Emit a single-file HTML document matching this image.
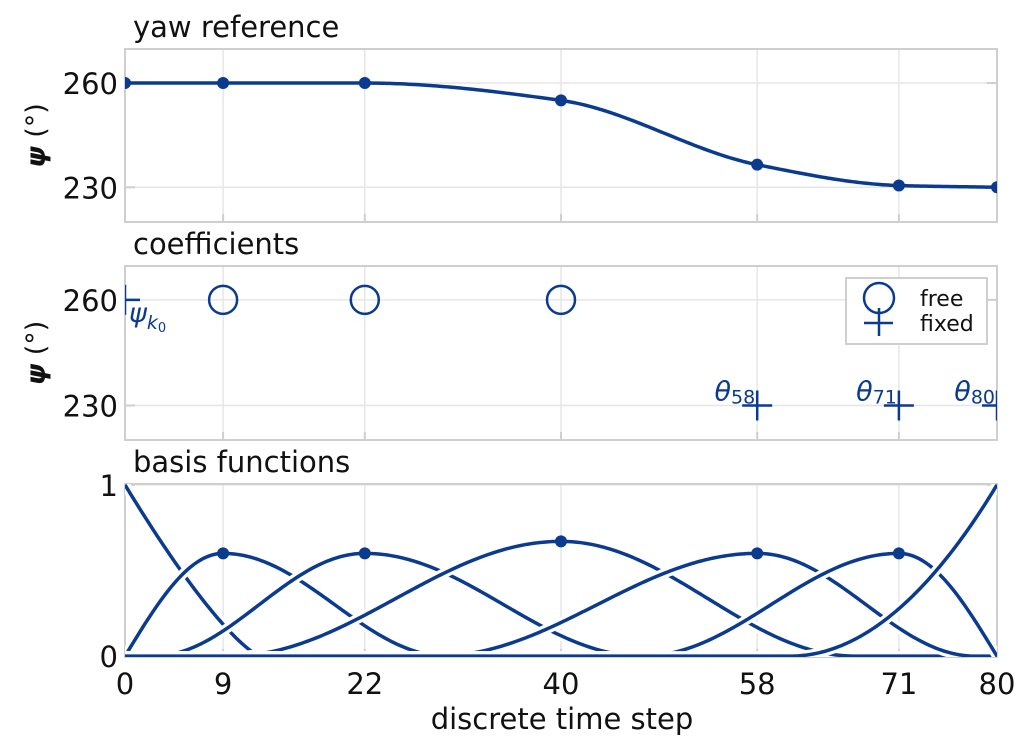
<!DOCTYPE html>
<html><head><meta charset="utf-8"><style>
html,body{margin:0;padding:0;background:#fff;}
svg{display:block;font-family:"DejaVu Sans","Liberation Sans",sans-serif;}
</style></head><body>
<svg id="chart" width="1033" height="755" viewBox="0 0 1033 755"></svg>
<script>
// ---- data ----
const knotTicks = [0, 9, 22, 40, 58, 71, 80];
const coefficients = [260, 260, 260, 260, 230, 230, 230];
const yawPointValues = [260, 260, 260, 255, 236.5, 230.5, 230];
const coefFixed = [true, false, false, false, true, true, true];
const coefLabels = ["k0", "", "", "", "58", "71", "80"];
const yawTicks = [230, 260];
const basisTicks = [0, 1];
// basis functions: support start, peak location, support end, peak value
const basisStart = [0, 0, 2.6, 9.6, 28.6, 47.5, 61];
const basisPeakAt = [0, 9, 22, 40, 58, 71, 80];
const basisEnd = [12.4, 29.5, 47.5, 67, 78, 80, 80];
const basisPeak = [1, 0.6, 0.6, 0.67, 0.6, 0.6, 1];

const C = '#0b3b8f', GRID = '#e6e6e6', BORDER = '#cfcfcf';
const FS = 29;
const svg = document.getElementById('chart');
const NS = 'http://www.w3.org/2000/svg';
function mk(tag, attrs, parent) {
  const e = document.createElementNS(NS, tag);
  for (const k in attrs) e.setAttribute(k, attrs[k]);
  (parent || svg).appendChild(e);
  return e;
}
const X0 = 125, X1 = 997;
const xs = v => X0 + v / 80 * (X1 - X0);
const nB = coefficients.length;

// monotone cubic (Fritsch-Carlson) through the yaw points
const nP = knotTicks.length;
const hs = [], ds = [];
for (let i = 0; i < nP - 1; i++) { hs.push(knotTicks[i + 1] - knotTicks[i]); ds.push((yawPointValues[i + 1] - yawPointValues[i]) / hs[i]); }
const ms = [ds[0]];
for (let i = 1; i < nP - 1; i++) {
  if (ds[i - 1] * ds[i] <= 0) ms.push(0);
  else { const w1 = 2 * hs[i] + hs[i - 1], w2 = hs[i] + 2 * hs[i - 1]; ms.push((w1 + w2) / (w1 / ds[i - 1] + w2 / ds[i])); }
}
ms.push(ds[nP - 2]);
function yaw(t) {
  let i = 0; while (i < nP - 2 && t > knotTicks[i + 1]) i++;
  const h = hs[i], u = (t - knotTicks[i]) / h;
  const h00 = 2*u*u*u - 3*u*u + 1, h10 = u*u*u - 2*u*u + u, h01 = -2*u*u*u + 3*u*u, h11 = u*u*u - u*u;
  return h00 * yawPointValues[i] + h10 * h * ms[i] + h01 * yawPointValues[i + 1] + h11 * h * ms[i + 1];
}
function bump(i, t) {
  const s = basisStart[i], p = basisPeakAt[i], e = basisEnd[i], h = basisPeak[i];
  if (t <= s && s < p) return 0;
  if (t >= e && e > p) return 0;
  if (t < p) {
    const u = (t - s) / (p - s);
    if (i === nB - 1) return h * u * u;
    if (s === 0) return h * Math.sin(Math.PI / 2 * u);
    return h * Math.pow(Math.sin(Math.PI / 2 * u), 2);
  }
  if (t > p) {
    const u = (t - p) / (e - p);
    if (i === 0) return h * Math.pow(1 - u, 1.3);
    if (e === 80) return h * Math.cos(Math.PI / 2 * u);
    return h * Math.pow(Math.cos(Math.PI / 2 * u), 2);
  }
  return h;
}
const samples = []; for (let t = 0; t <= 80.0001; t += 0.25) samples.push(Math.min(t, 80));

const panels = [
  {top: 49, bot: 222, lo: 220, hi: 269.8, title: 'yaw reference', name: 'yaw-panel', ticks: yawTicks},
  {top: 266, bot: 440, lo: 220.2, hi: 269.6, title: 'coefficients', name: 'coefficients-panel', ticks: yawTicks},
  {top: 484, bot: 657, lo: -0.005, hi: 1.005, title: 'basis functions', name: 'basis-panel', ticks: basisTicks}
];
mk('defs', {}).innerHTML = panels.map((p, i) => `<clipPath id="clip${i}"><rect x="${X0}" y="${p.top}" width="${X1 - X0}" height="${p.bot - p.top}"/></clipPath>`).join('');

panels.forEach((p, pi) => {
  const g = mk('g', {});
  
  
  p.ys = v => p.bot - (v - p.lo) / (p.hi - p.lo) * (p.bot - p.top);
  knotTicks.slice(1, -1).forEach(k => {
    const l = mk('line', {x1: xs(k), x2: xs(k), y1: p.top, y2: p.bot, stroke: GRID, 'stroke-width': 1.5}, g);
     
    mk('line', {x1: xs(k), x2: xs(k), y1: p.bot, y2: p.bot - 8, stroke: BORDER, 'stroke-width': 2}, g);
  });
  p.ticks.forEach(v => {
    const l = mk('line', {x1: X0, x2: X1, y1: p.ys(v), y2: p.ys(v), stroke: GRID, 'stroke-width': 1.5}, g);
     
    mk('line', {x1: X0, x2: X0 + 10, y1: p.ys(v), y2: p.ys(v), stroke: BORDER, 'stroke-width': 2}, g);
    mk('line', {x1: X1 - 10, x2: X1, y1: p.ys(v), y2: p.ys(v), stroke: BORDER, 'stroke-width': 2}, g);
    const t = mk('text', {x: X0 - 7, y: p.ys(v) + 11, 'text-anchor': 'end', 'font-size': FS, fill: '#111'}, g);
    t.textContent = v;
     
  });
  const r = mk('rect', {x: X0, y: p.top, width: X1 - X0, height: p.bot - p.top, fill: 'none', stroke: BORDER, 'stroke-width': 2}, g);
   
  const tt = mk('text', {x: 133, y: p.top - 12, 'font-size': FS, fill: '#111'}, g);
  tt.textContent = p.title;
   
  if (pi < 2) {
    const yl = mk('text', {transform: `translate(45 ${(p.top + p.bot) / 2}) rotate(-90)`, 'text-anchor': 'middle', 'font-size': 27, fill: '#111'}, g);
    yl.innerHTML = '<tspan font-style="italic" font-weight="bold">ψ</tspan> (°)';
     
  }
  p.g = mk('g', {'clip-path': `url(#clip${pi})`}, g);
});

// panel 1
{
  const p = panels[0];
  const d = samples.map((t, i) => (i ? 'L' : 'M') + xs(t).toFixed(2) + ',' + p.ys(yaw(t)).toFixed(2)).join('');
  const path = mk('path', {d, fill: 'none', stroke: C, 'stroke-width': 3.5}, p.g);
   
  knotTicks.forEach((k, i) => {
    const c = mk('circle', {cx: xs(k), cy: p.ys(yawPointValues[i]), r: 6, fill: C}, p.g);
     
  });
}
// panel 2
{
  const p = panels[1];
  coefficients.forEach((v, i) => {
    const cx = xs(knotTicks[i]), cy = p.ys(v);
    if (coefFixed[i]) {
      const pl = mk('path', {d: `M${cx - 15},${cy}H${cx + 15}M${cx},${cy - 15}V${cy + 15}`, stroke: C, 'stroke-width': 2.5, fill: 'none'}, p.g);
       
    } else {
      const c = mk('circle', {cx, cy, r: 14, fill: 'none', stroke: C, 'stroke-width': 2.5}, p.g);
       
    }
    if (coefLabels[i]) {
      const t = mk('text', {'font-size': 27, fill: C}, svg);
       
      if (i === 0) {
        t.setAttribute('x', cx + 4); t.setAttribute('y', cy + 22);
        t.innerHTML = '<tspan font-style="italic">ψ</tspan><tspan font-size="19" dy="7" font-style="italic">k</tspan><tspan font-size="13" dy="3">0</tspan>';
      } else {
        t.setAttribute('x', cx - 2); t.setAttribute('y', cy - 5); t.setAttribute('text-anchor', 'end');
        t.innerHTML = '<tspan font-style="italic">θ</tspan><tspan font-size="19" dy="3">' + coefLabels[i] + '</tspan>';
      }
    }
  });
  const lg = mk('g', {});
   
  mk('rect', {x: 846, y: 278, width: 141, height: 66, fill: '#fff', stroke: BORDER, 'stroke-width': 2}, lg);
  mk('circle', {cx: 879, cy: 298, r: 15, fill: 'none', stroke: C, 'stroke-width': 2.5}, lg);
  mk('path', {d: 'M864,323H893M879,308V336', stroke: C, 'stroke-width': 2.5}, lg);
  const t1 = mk('text', {x: 920, y: 306, 'font-size': 22, fill: '#111'}, lg); t1.textContent = 'free';
   
  const t2 = mk('text', {x: 920, y: 331, 'font-size': 22, fill: '#111'}, lg); t2.textContent = 'fixed';
   
}
// panel 3
{
  const p = panels[2];
  mk('line', {x1: X0, x2: X1, y1: p.ys(0), y2: p.ys(0), stroke: '#5a7bb8', 'stroke-width': 1.5}, p.g);
  for (let i = 0; i < nB; i++) {
    const d = samples.map((t, j) => (j ? 'L' : 'M') + xs(t).toFixed(2) + ',' + p.ys(bump(i, t)).toFixed(2)).join('');
    mk('path', {d, fill: 'none', stroke: '#fff', 'stroke-width': 10}, p.g);
    const path = mk('path', {d, fill: 'none', stroke: C, 'stroke-width': 3.5}, p.g);
     
    if (i > 0 && i < nB - 1) {
      const c = mk('circle', {cx: xs(basisPeakAt[i]), cy: p.ys(basisPeak[i]), r: 6, fill: C}, p.g);
       
    }
  }
  knotTicks.forEach(k => {
    const t = mk('text', {x: xs(k), y: 694, 'text-anchor': 'middle', 'font-size': FS, fill: '#111'});
    t.textContent = k;
     
  });
  const xt = mk('text', {x: 562, y: 729, 'text-anchor': 'middle', 'font-size': FS, fill: '#111'});
  xt.textContent = 'discrete time step';
   
}
</script>
</body></html>
